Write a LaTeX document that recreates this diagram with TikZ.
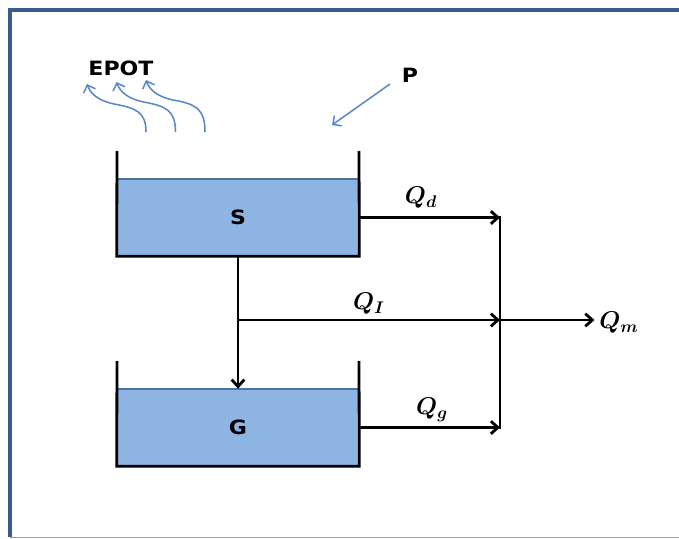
\documentclass[tikz,border=0pt]{standalone}
\usepackage{fontspec}
\newfontfamily\labelfont[FakeStretch=1.12]{DejaVu Sans}
\usepackage{amsmath}
\usepackage{bm}
\usepackage{tikz}
\usetikzlibrary{arrows.meta}
\definecolor{waterblue}{HTML}{8EB4E3}
\definecolor{waterline}{HTML}{4A72A8}
\definecolor{vapour}{HTML}{5A8AC6}
\definecolor{framedark}{HTML}{3A5C88}
\definecolor{framelight}{HTML}{8FA6C4}
\tikzset{%
  water/.style={
    fill=waterblue,
    draw=none,
    inner sep=0pt,
    font=\labelfont\fontsize{14}{14}\selectfont\bfseries
  },
  tankwall/.style={
    draw=black,
    line width=2pt
  },
  flow/.style={
    draw=black,
    line width=2pt,
    ->
  },
  flowlabel/.style={
    font=\fontsize{18}{18}\selectfont
  },
  vapour arrow/.style={
    draw=vapour,
    line width=1.1pt,
    -{Straight Barb[length=4.5pt,width=9pt]}
  },
  plain label/.style={
    font=\labelfont\fontsize{14}{14}\selectfont\bfseries
  },
}

\begin{document}
\begin{tikzpicture}[> = {Straight Barb[length=5pt,width=9pt]}, x={(0.025cm,0)}, y={(0,-0.025cm)}]
\useasboundingbox (0,0) rectangle (679,539);
\fill[white] (0,0) rectangle (679,539);
\draw[framedark, line width=2.2pt] (679,10) -- (10,10) -- (10,537);
\draw[framelight, line width=1pt] (10,537.5) -- (679,537.5);

    \node[water, minimum width=6.05cm, minimum height=1.925cm] (S) at (238,217.5) {S};
    \node[water, minimum width=6.05cm, minimum height=1.925cm] (G) at (238,427.5) {G};
    \draw[waterline, line width=1.2pt] (S.north west) -- (S.north east);
    \draw[waterline, line width=1.2pt] (G.north west) -- (G.north east);
    \draw[tankwall] (117,151) -- (S.south west) -- (S.south east) -- (359,151);
    \draw[tankwall] (117,361) -- (G.south west) -- (G.south east) -- (359,361);

    \coordinate (jtop) at (500,217.5);
    \coordinate (jmid) at (500,320);
    \coordinate (jbot) at (500,427.5);
    \coordinate (split) at (S.south |- jmid);

    \draw[flow] (S.south) -- (G.north);
    \draw[flow] (S.east) -- (jtop);
    \draw[flow] (split) -- (jmid);
    \draw[flow] (G.east) -- (jbot);
    \draw[tankwall] ([yshift=1pt]jtop) -- ([yshift=-1pt]jbot);

    \node[flowlabel] (Qm) at (619,323) {$\bm{Q_m}$};
    \draw[flow] (jmid) -- (jmid -| Qm.west);
    \node[flowlabel] (Qd) at (421,198) {$\bm{Q_d}$};
    \node[flowlabel] (QI) at (369,304) {$\bm{Q_I}$};
    \node[flowlabel] (Qg) at (432,410) {$\bm{Q_g}$};

    \node[plain label] (EPOT) at (121,68) {EPOT};
    \foreach \dx/\dy in {0/0,29.5/-2,59/-4}
        \draw[vapour arrow, shift={(\dx,\dy)}] (146,132+\dy*-1) .. controls (146,112) and (136,108) .. (114,104) .. controls (100,101) and (91,95) .. (87,84);

    \node[plain label] (P) at (410,75) {P};
    \coordinate (rain) at (332,125);
    \draw[vapour arrow] (390,84) -- (rain);
\end{tikzpicture}
\end{document}
